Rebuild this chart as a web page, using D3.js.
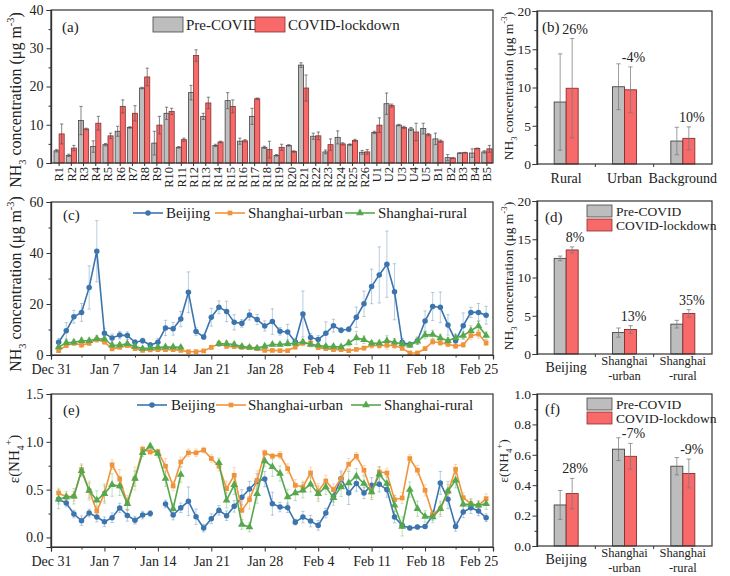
<!DOCTYPE html>
<html>
<head>
<meta charset="utf-8">
<script src="https://cdn.jsdelivr.net/npm/d3@7"></script>
<style>
body { margin: 0; background: #fff; }
svg { display: block; font-family: "Liberation Serif", "Times New Roman", serif; }
</style>
</head>
<body>
<div id="chart"></div>
<script>
// ---- panel (a): site means
const sites = ['R1','R2','R3','R4','R5','R6','R7','R8','R9','R10','R11','R12','R13','R14','R15','R16','R17','R18','R19','R20',
  'R21','R22','R23','R24','R25','R26','U1','U2','U3','U4','U5','B1','B2','B3','B4','B5']
const sitePre = [3.2,2.0,11.1,4.3,4.8,8.3,9.3,19.6,5.2,13.0,4.1,18.4,12.2,4.6,16.3,5.7,12.2,4.1,2.0,4.6,
  25.6,7.0,2.9,6.7,4.8,2.8,8.0,15.5,9.9,8.9,9.0,6.3,1.4,2.6,2.6,2.9]
const sitePreSd = [0.3,0.3,3.7,1.5,0.3,1.3,0.2,0.2,3.1,1.6,0.2,1.9,0.8,0.3,2.1,0.8,2.1,0.3,0.2,0.2,
  0.6,0.8,0.5,1.7,0.2,0.5,0.3,2.8,0.2,0.4,1.4,1.5,0.8,0.1,1.1,0.3]
const siteCovid = [7.6,3.9,8.9,10.4,7.1,14.8,13.0,22.5,9.9,13.5,6.1,28.1,15.7,5.5,14.8,5.8,16.8,3.5,4.1,3.0,
  19.6,7.1,4.8,5.0,5.9,2.9,9.9,15.0,9.3,8.1,7.4,5.7,1.3,2.7,3.8,3.7]
const siteCovidSd = [2.6,0.7,0.2,1.8,0.7,1.7,2.0,2.3,2.3,0.8,0.4,1.5,1.5,0.2,1.7,0.3,0.2,2.2,0.8,0.2,
  3.4,1.0,1.5,0.3,0.3,0.6,1.9,0.4,0.3,2.3,0.3,0.3,0.1,0.1,0.1,0.9]

// ---- panel (b): site types
const typeNames = ['Rural','Urban','Background']
const typePre = [8.1,10.1,3.0]
const typePreSd = [6.3,3.0,1.8]
const typeCovid = [9.9,9.7,3.35]
const typeCovidSd = [6.5,3.0,1.5]
const typeChange = ['26%','-4%','10%']

// ---- panels (d), (f): cities
const cityNames = ['Beijing','Shanghai|-urban','Shanghai|-rural']
const nh3Pre = [12.5,2.8,3.9]
const nh3PreSd = [0.3,0.6,0.5]
const nh3Covid = [13.6,3.2,5.3]
const nh3CovidSd = [0.4,0.5,0.5]
const nh3Change = ['8%','13%','35%']
const epsPre = [0.27,0.637,0.525]
const epsPreSd = [0.095,0.075,0.057]
const epsCovid = [0.345,0.59,0.477]
const epsCovidSd = [0.1,0.085,0.095]
const epsChange = ['28%','-7%','-9%']

// ---- panels (c), (e): daily series, Jan 1 .. Feb 26 (day 1..57)
const days = d3.range(1, 58)
const dateTicks = [0,7,14,21,28,35,42,49,56]
const dateLabels = ['Dec 31','Jan 7','Jan 14','Jan 21','Jan 28','Feb 4','Feb 11','Feb 18','Feb 25']
const dateMinor = [4,11,18,25,32,39,46,53]
const seriesNames = ['Beijing','Shanghai-urban','Shanghai-rural']

const bjNh3 = [5.0,9.5,15.0,16.7,26.5,40.7,8.5,6.7,7.8,7.6,5.0,5.6,3.9,5.0,10.6,10.3,14.1,24.6,9.2,7.1,
  14.8,18.7,17.1,12.8,12.4,15.7,13.9,11.4,13.1,9.3,9.0,5.1,16.1,6.9,6.1,8.5,11.5,9.7,10.1,14.8,
  20.1,26.9,31.4,35.6,24.8,5.0,4.1,5.6,13.3,19.0,18.7,11.8,5.6,11.5,16.7,16.7,15.6]
const bjNh3Sd = [1.5,3.2,2.5,3.5,8.5,12,2,1.5,1.5,1.5,1,1,1,1.5,3,2.5,3,8,1.5,1,
  3.5,2.5,4,3,1.5,2,2,2,5,1.5,3,1.5,9,1.5,1.5,4.5,2.5,1,1,4,
  5,6.8,11,13,11,1.5,1,1.5,4,5.5,6,4,1.5,5,2,3.5,3.5]
const suNh3 = [1.7,3.7,4.6,3.9,4.6,6.1,5.1,2.4,3.0,3.7,2.5,1.8,2.0,2.1,2.1,2.1,1.8,1.3,1.3,1.6,
  3.0,4.4,3.4,3.3,3.0,2.9,2.5,1.8,1.8,1.7,1.7,3.1,4.6,4.7,2.9,2.5,2.1,2.1,1.7,2.2,
  2.7,3.8,3.7,3.8,3.7,2.6,0.8,0.8,2.5,5.2,4.8,4.2,3.5,4.0,7.6,8.2,4.7]
const suNh3Sd = [0.6,0.8,0.8,0.9,0.8,1.2,1.0,0.6,0.6,0.7,0.6,0.5,0.5,0.5,0.5,0.5,0.5,0.4,0.4,0.5,
  0.8,1.0,0.8,0.8,0.7,0.7,0.6,0.5,0.5,0.5,0.5,0.8,1.0,1.0,0.8,0.7,0.6,0.6,0.5,0.6,
  0.8,1.2,1.2,1.5,1.2,0.8,0.4,0.4,0.7,1.2,1.1,1.0,0.9,1.0,1.5,1.6,1.0]
const srNh3 = [3.1,4.8,5.0,5.6,5.6,6.4,6.3,3.8,3.9,4.4,3.3,2.5,2.7,3.0,3.1,3.1,3.0,null,null,null,
  null,4.4,4.4,4.1,3.3,3.0,2.7,3.4,4.1,4.1,4.4,4.6,5.1,4.1,3.8,3.3,3.3,3.1,4.7,6.7,
  6.0,4.6,4.6,5.6,5.0,4.3,3.8,5.4,7.8,8.0,6.7,5.6,6.8,7.6,9.5,11.4,7.6]
const srNh3Sd = [0.8,1.0,1.0,1.0,1.0,1.2,1.2,0.8,0.8,0.9,0.7,0.6,0.6,0.7,0.7,0.7,0.7,null,null,null,
  null,1.0,1.2,1.0,0.8,0.8,0.7,0.8,0.8,0.8,0.9,0.9,1.0,0.9,0.8,0.8,0.8,0.8,1.2,2.5,
  1.5,1.0,1.2,2.0,1.5,1.0,0.8,1.2,1.5,1.8,1.5,1.2,1.5,1.5,2.0,2.0,1.5]

const bjEps = [0.40,0.36,0.245,0.175,0.255,0.213,0.164,0.206,0.308,0.23,0.18,0.234,0.25,null,0.35,0.234,0.31,0.378,0.217,0.098,
  0.196,0.283,0.227,0.325,0.42,0.507,0.587,0.61,0.353,0.318,0.311,0.16,0.213,0.171,0.126,0.255,0.43,0.615,0.465,0.563,
  0.465,0.545,0.556,0.5,0.213,0.126,0.098,0.108,0.115,0.23,0.57,0.4,0.115,0.266,0.311,0.276,0.206]
const bjEpsSd = [0.05,0.04,0.04,0.05,0.04,0.05,0.05,0.05,0.05,0.06,0.04,0.04,0.03,null,0.04,0.05,0.05,0.15,0.08,0.04,
  0.05,0.05,0.05,0.06,0.08,0.08,0.08,0.08,0.12,0.05,0.05,0.03,0.06,0.06,0.05,0.05,0.06,0.08,0.12,0.08,
  0.06,0.08,0.08,0.08,0.06,0.03,0.02,0.02,0.02,0.05,0.12,0.1,0.05,0.06,0.06,0.05,0.04]
const suEps = [0.465,0.423,0.43,0.71,0.49,0.276,0.458,0.76,0.61,0.36,0.615,0.923,0.895,0.895,0.745,0.538,0.79,0.885,0.885,0.913,
  0.825,0.745,0.51,0.65,0.283,0.395,0.598,0.885,0.85,0.86,0.72,0.545,0.528,0.675,0.483,0.59,0.5,0.615,0.766,0.85,
  0.703,0.476,0.685,0.675,0.395,0.413,0.825,0.703,0.493,0.241,0.30,0.476,0.713,0.416,0.353,0.336,0.406]
const suEpsSd = [0.05,0.04,0.05,0.06,0.1,0.05,0.08,0.05,0.1,0.08,0.12,0.03,0.03,0.03,0.08,0.05,0.05,0.04,0.04,0.03,
  0.04,0.05,0.08,0.08,0.1,0.1,0.1,0.03,0.03,0.04,0.05,0.06,0.06,0.06,0.08,0.06,0.06,0.06,0.06,0.04,
  0.05,0.06,0.05,0.05,0.05,0.06,0.04,0.05,0.06,0.04,0.06,0.08,0.05,0.05,0.04,0.04,0.05]
const srEps = [0.40,0.423,0.43,0.696,0.49,0.388,0.458,0.55,0.538,0.353,0.615,0.885,0.955,0.878,0.615,0.30,0.657,null,null,null,
  null,0.78,0.388,0.55,0.136,0.108,0.458,0.80,0.738,0.668,0.423,0.465,0.493,0.556,0.458,0.528,0.416,0.528,0.57,0.64,
  0.563,0.476,0.66,0.563,0.336,0.115,0.5,0.30,0.22,0.213,0.30,0.486,0.598,0.346,0.346,0.336,0.353]
const srEpsSd = [0.1,0.06,0.08,0.06,0.08,0.1,0.1,0.12,0.1,0.06,0.08,0.04,0.03,0.04,0.08,0.06,0.08,null,null,null,
  null,0.05,0.08,0.1,0.05,0.05,0.1,0.06,0.1,0.08,0.08,0.08,0.08,0.08,0.08,0.08,0.08,0.1,0.12,0.08,
  0.08,0.08,0.08,0.08,0.1,0.1,0.08,0.08,0.06,0.06,0.08,0.1,0.08,0.06,0.06,0.05,0.06]

const colors = ['#3c75ae', '#f0943b', '#55a84e']
const symbols = [d3.symbolCircle, d3.symbolSquare, d3.symbolTriangle]
const symSize = [24, 22, 26]
const preFill = '#bdbdbd', preStroke = '#444'
const covFill = '#f86a6a', covStroke = '#8a2e2e'
const ink = '#222'

let svg = d3.select('#chart').append('svg')
.attr('width', 730)
.attr('height', 576)

svg.append('rect').attr('width', 730).attr('height', 576).attr('fill', '#fff')

function frame(x0, x1, y0, y1) {
	svg.append('rect')
	.attr('x', x0).attr('y', y0)
	.attr('width', x1 - x0).attr('height', y1 - y0)
	.attr('fill', 'none')
	.attr('stroke', '#333')
	.attr('stroke-width', 1.2)
}

function styleAxis(g, fs) {
	g.select('.domain').attr('stroke', '#333').attr('stroke-width', 1.2)
	g.selectAll('.tick line').attr('stroke', '#333').attr('stroke-width', 1)
	g.selectAll('.tick text').attr('fill', ink).attr('font-size', fs).attr('font-family', 'Liberation Serif')
}

function yAxis(y, x0, major, minor, fmt, fs, pad) {
	let gm = svg.append('g').attr('transform', `translate(${x0},0)`)
	.call(d3.axisLeft(y).tickValues(minor).tickSize(2.5).tickFormat(''))
	styleAxis(gm, fs)
	let g = svg.append('g').attr('transform', `translate(${x0},0)`)
	.call(d3.axisLeft(y).tickValues(major).tickSize(4.5).tickPadding(pad == null ? 3 : pad).tickFormat(fmt))
	styleAxis(g, fs)
}

function nh3Title(x, yc, fs) {
	let t = svg.append('text')
	.attr('transform', `translate(${x},${yc}) rotate(-90)`)
	.attr('text-anchor', 'middle')
	.attr('font-size', fs)
	.attr('fill', ink)
	t.append('tspan').text('NH')
	t.append('tspan').text('3').attr('font-size', fs * 0.65).attr('dy', fs * 0.3)
	t.append('tspan').text(' concentration (μg m').attr('dy', -fs * 0.3)
	t.append('tspan').text('-3').attr('font-size', fs * 0.65).attr('dy', -fs * 0.42)
	t.append('tspan').text(')').attr('dy', fs * 0.42)
}

function epsTitle(x, yc, fs) {
	let t = svg.append('text')
	.attr('transform', `translate(${x},${yc}) rotate(-90)`)
	.attr('text-anchor', 'middle')
	.attr('font-size', fs)
	.attr('fill', ink)
	t.append('tspan').text('ε(NH')
	t.append('tspan').text('4').attr('font-size', fs * 0.65).attr('dy', fs * 0.3)
	t.append('tspan').text('+').attr('font-size', fs * 0.65).attr('dy', -fs * 0.75)
	t.append('tspan').text(')').attr('dy', fs * 0.45)
}

function panelLabel(x, y, txt) {
	svg.append('text').attr('x', x).attr('y', y)
	.attr('font-size', 15).attr('fill', ink).text(txt)
}

function errBar(g, x, y, v, sd, cap, color, width, opacity) {
	if (v == null || sd == null) return
	g.append('line')
	.attr('x1', x).attr('x2', x)
	.attr('y1', y(v - sd)).attr('y2', y(v + sd))
	.attr('stroke', color).attr('stroke-width', width).attr('stroke-opacity', opacity)
	;[v - sd, v + sd].forEach(e => {
		g.append('line')
		.attr('x1', x - cap).attr('x2', x + cap)
		.attr('y1', y(e)).attr('y2', y(e))
		.attr('stroke', color).attr('stroke-width', width).attr('stroke-opacity', opacity)
	})
}

// ============ panel (a)
{
	let xa = d3.scaleBand().domain(sites).range([53, 493])
	let ya = d3.scaleLinear().domain([0, 40]).range([163, 10])
	let bw = 5.1
	let g = svg.append('g')

	sites.forEach((s, i) => {
		let c = xa(s) + xa.bandwidth() / 2
		g.append('rect').attr('x', c - bw).attr('y', ya(sitePre[i]))
		.attr('width', bw).attr('height', ya(0) - ya(sitePre[i]))
		.attr('fill', preFill).attr('stroke', preStroke).attr('stroke-width', 0.8)
		g.append('rect').attr('x', c).attr('y', ya(siteCovid[i]))
		.attr('width', bw).attr('height', ya(0) - ya(siteCovid[i]))
		.attr('fill', covFill).attr('stroke', covStroke).attr('stroke-width', 0.8)
		errBar(g, c - bw / 2, ya, sitePre[i], sitePreSd[i], 1.6, '#555', 0.8, 0.9)
		errBar(g, c + bw / 2, ya, siteCovid[i], siteCovidSd[i], 1.6, '#555', 0.8, 0.9)

		g.append('line').attr('x1', c).attr('x2', c).attr('y1', 163).attr('y2', 166)
		.attr('stroke', '#333')
		svg.append('text')
		.attr('transform', `translate(${c},167) rotate(-90)`)
		.attr('text-anchor', 'end').attr('dy', '0.35em')
		.attr('font-size', 12.5).attr('fill', ink)
		.text(s)
	})

	yAxis(ya, 51, [0, 10, 20, 30, 40], [5, 15, 25, 35], d3.format('d'), 14)
	frame(51, 493, 10, 163)
	nh3Title(21, 100, 16)
	panelLabel(62, 32, '(a)')

	// legend
	let lg = [['Pre-COVID', preFill, preStroke, 153], ['COVID-lockdown', covFill, covStroke, 255]]
	lg.forEach(d => {
		svg.append('rect').attr('x', d[3]).attr('y', 17).attr('width', 30).attr('height', 15)
		.attr('fill', d[1]).attr('stroke', d[2]).attr('stroke-width', 0.8)
		svg.append('text').attr('x', d[3] + 33).attr('y', 29.5)
		.attr('font-size', 15).attr('fill', ink).text(d[0])
	})
}

// ============ bar panels (b), (d), (f)
function barPanel(opt) {
	let x = d3.scaleBand().domain(opt.names).range([537, 712])
	let y = d3.scaleLinear().domain(opt.domain).range([opt.y1, opt.y0])
	let bw = 12
	let g = svg.append('g')
	opt.names.forEach((n, i) => {
		let c = x(n) + x.bandwidth() / 2
		g.append('rect').attr('x', c - bw).attr('y', y(opt.pre[i]))
		.attr('width', bw).attr('height', y(0) - y(opt.pre[i]))
		.attr('fill', preFill).attr('stroke', preStroke).attr('stroke-width', 0.9)
		g.append('rect').attr('x', c).attr('y', y(opt.cov[i]))
		.attr('width', bw).attr('height', y(0) - y(opt.cov[i]))
		.attr('fill', covFill).attr('stroke', covStroke).attr('stroke-width', 0.9)
		errBar(g, c - bw / 2, y, opt.pre[i], opt.preSd[i], 2.2, '#777', 0.8, 0.9)
		errBar(g, c + bw / 2, y, opt.cov[i], opt.covSd[i], 2.2, '#777', 0.8, 0.9)

		svg.append('text').attr('x', c + bw / 2 + 3).attr('y', y(opt.cov[i] + opt.covSd[i]) - 5)
		.attr('text-anchor', 'middle').attr('font-size', 14).attr('fill', ink)
		.text(opt.change[i])

		let parts = n.split('|')
		if (parts.length == 1) {
			svg.append('text').attr('x', c).attr('y', opt.y1 + opt.lab1)
			.attr('text-anchor', 'middle').attr('font-size', 14).attr('fill', ink).text(n)
		} else {
			let t = svg.append('text').attr('y', opt.y1 + 11)
			.attr('text-anchor', 'middle').attr('font-size', 12.5).attr('fill', ink)
			parts.forEach((p, k) => {
				t.append('tspan').attr('x', c).attr('dy', k == 0 ? 0 : 14.5).text(p)
			})
		}
		if (i > 0) {
			g.append('line').attr('x1', x(n)).attr('x2', x(n))
			.attr('y1', opt.y1).attr('y2', opt.y1 + 3).attr('stroke', '#333')
		}
	})
	yAxis(y, 537, opt.major, opt.minor, opt.fmt, 13.5, 1.5)
	frame(537, 712, opt.y0, opt.y1)
	if (opt.legend) {
		let lg = [['Pre-COVID', preFill, preStroke], ['COVID-lockdown', covFill, covStroke]]
		lg.forEach((d, k) => {
			svg.append('rect').attr('x', 587).attr('y', opt.y0 + 4 + k * 14)
			.attr('width', 25).attr('height', 12)
			.attr('fill', d[1]).attr('stroke', d[2]).attr('stroke-width', 0.8)
			svg.append('text').attr('x', 616).attr('y', opt.y0 + 14.5 + k * 14)
			.attr('font-size', 13.5).attr('fill', ink).text(d[0])
		})
	}
}

barPanel({names: typeNames, pre: typePre, preSd: typePreSd, cov: typeCovid, covSd: typeCovidSd, change: typeChange,
	domain: [0, 20], y0: 11, y1: 164, major: [0, 5, 10, 15, 20], minor: [2.5, 7.5, 12.5, 17.5], fmt: d3.format('d'), lab1: 19})
nh3Title(513, 86, 13.5)
panelLabel(542, 32, '(b)')

barPanel({names: cityNames, pre: nh3Pre, preSd: nh3PreSd, cov: nh3Covid, covSd: nh3CovidSd, change: nh3Change,
	domain: [0, 20], y0: 201, y1: 354, major: [0, 5, 10, 15, 20], minor: [2.5, 7.5, 12.5, 17.5], fmt: d3.format('d'), lab1: 18, legend: true})
nh3Title(513, 276, 13.5)
panelLabel(545, 222, '(d)')

barPanel({names: cityNames, pre: epsPre, preSd: epsPreSd, cov: epsCovid, covSd: epsCovidSd, change: epsChange,
	domain: [0, 1.0], y0: 394, y1: 546, major: [0, 0.2, 0.4, 0.6, 0.8, 1.0], minor: [0.1, 0.3, 0.5, 0.7, 0.9], fmt: d3.format('.1f'), lab1: 18, legend: true})
epsTitle(508, 461, 13.5)
panelLabel(545, 414, '(f)')

// ============ time series panels (c), (e)
function seriesPanel(opt) {
	let x = d3.scaleLinear().domain([0, 57.9]).range([51, 493])
	let y = d3.scaleLinear().domain(opt.domain).range([opt.y1, opt.y0])
	let g = svg.append('g')

	opt.series.forEach((s, k) => {
		days.forEach((d, i) => errBar(g, x(d), y, s.v[i], s.sd[i], 1.7, colors[k], 0.9, 0.4))
	})
	opt.series.forEach((s, k) => {
		let line = d3.line()
		.defined(d => d[1] != null)
		.x(d => x(d[0])).y(d => y(d[1]))
		g.append('path').datum(days.map((d, i) => [d, s.v[i]]))
		.attr('d', line).attr('fill', 'none')
		.attr('stroke', colors[k]).attr('stroke-width', 1.6)
		g.selectAll(null).data(days.map((d, i) => [d, s.v[i]]).filter(d => d[1] != null))
		.enter().append('path')
		.attr('transform', d => `translate(${x(d[0])},${y(d[1])})`)
		.attr('d', d3.symbol(symbols[k], symSize[k]))
		.attr('fill', colors[k])
	})

	let gm = svg.append('g').attr('transform', `translate(0,${opt.y1})`)
	.call(d3.axisBottom(x).tickValues(dateMinor).tickSize(2.5).tickFormat(''))
	styleAxis(gm, 14)
	let gx = svg.append('g').attr('transform', `translate(0,${opt.y1})`)
	.call(d3.axisBottom(x).tickValues(dateTicks).tickSize(4.5).tickPadding(5)
	.tickFormat((d, i) => dateLabels[i]))
	styleAxis(gx, 14)

	yAxis(y, 51, opt.major, opt.minor, opt.fmt, 14)
	frame(51, 493, opt.y0, opt.y1)

	// legend
	opt.legend.forEach((l, k) => {
		let ly = opt.y0 + 11
		svg.append('line').attr('x1', l[0]).attr('x2', l[0] + 30).attr('y1', ly).attr('y2', ly)
		.attr('stroke', colors[k]).attr('stroke-width', 1.6)
		svg.append('path').attr('transform', `translate(${l[0] + 15},${ly})`)
		.attr('d', d3.symbol(symbols[k], symSize[k])).attr('fill', colors[k])
		svg.append('text').attr('x', l[1]).attr('y', ly + 5)
		.attr('font-size', 15).attr('fill', ink).text(seriesNames[k])
	})
}

seriesPanel({
	series: [{v: bjNh3, sd: bjNh3Sd}, {v: suNh3, sd: suNh3Sd}, {v: srNh3, sd: srNh3Sd}],
	domain: [0, 60], y0: 202, y1: 355, major: [0, 20, 40, 60], minor: [10, 30, 50], fmt: d3.format('d'),
	legend: [[133, 166], [215, 248], [345, 378]]
})
nh3Title(21, 284, 16)
panelLabel(63, 220, '(c)')

seriesPanel({
	series: [{v: bjEps, sd: bjEpsSd}, {v: suEps, sd: suEpsSd}, {v: srEps, sd: srEpsSd}],
	domain: [-0.1, 1.5], y0: 394, y1: 547, major: [0, 0.5, 1.0, 1.5], minor: [0.25, 0.75, 1.25], fmt: d3.format('.1f'),
	legend: [[137, 171], [216, 248], [351, 384]]
})
epsTitle(19, 459, 15)
panelLabel(63, 415, '(e)')
</script>
</body>
</html>
